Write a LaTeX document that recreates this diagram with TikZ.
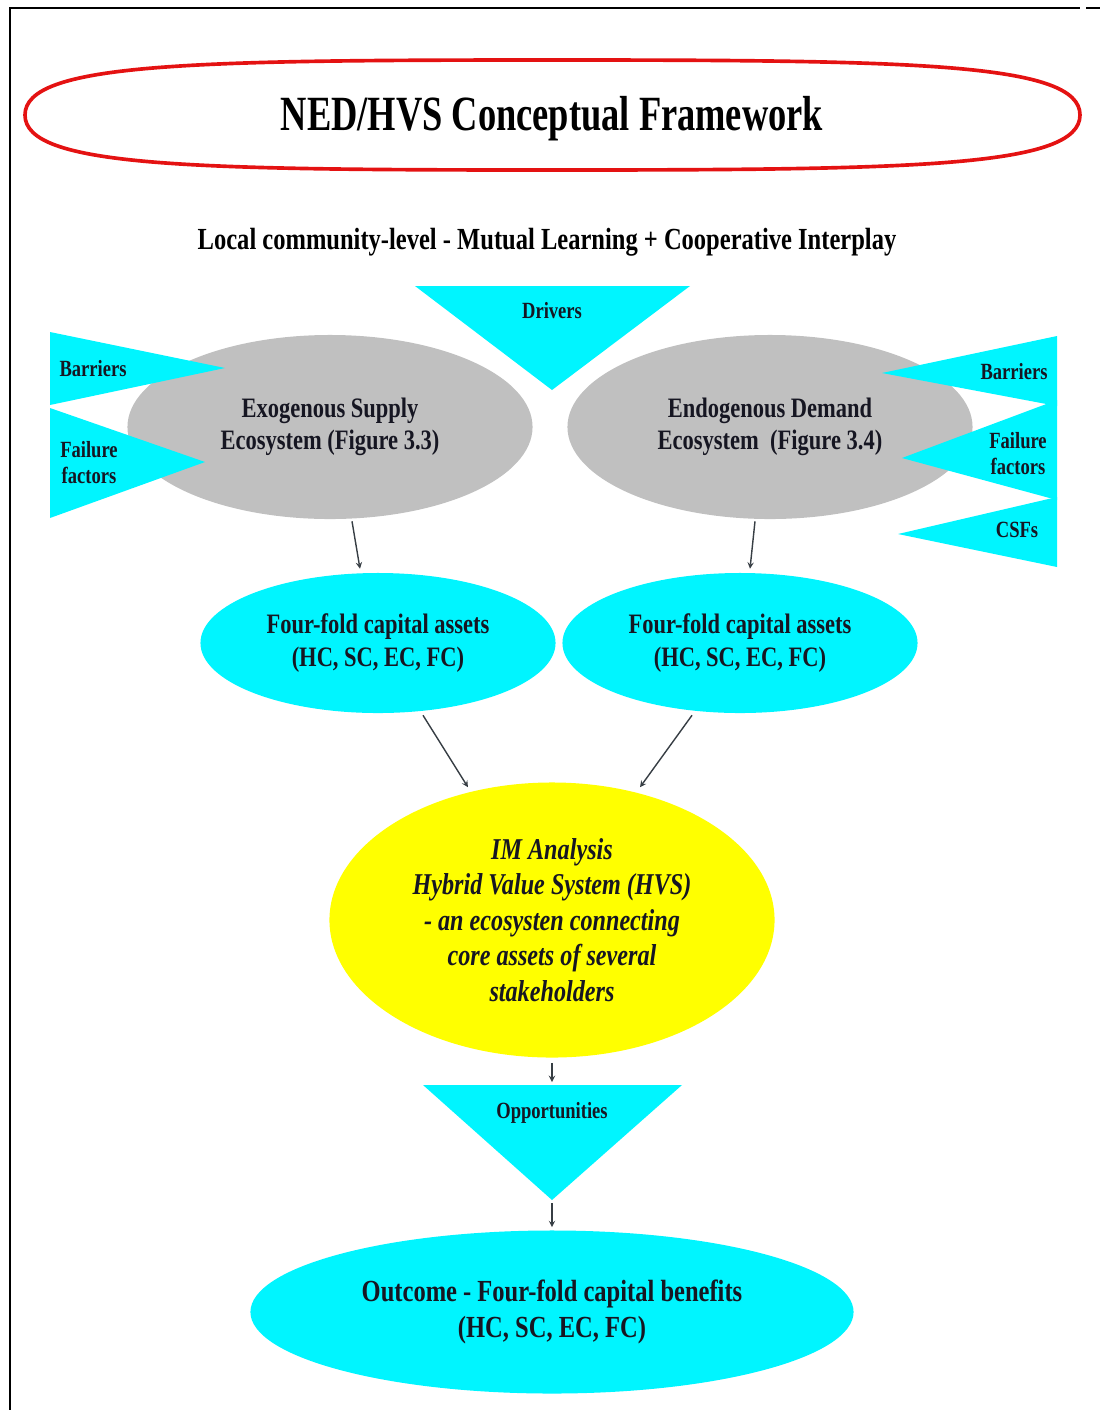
\documentclass[tikz,border=0pt]{standalone}
\usepackage{fontspec}
\setmainfont{Liberation Serif}[FakeStretch=0.8]
\newfontfamily\titlefont{Liberation Serif}[FakeStretch=0.74]
\usepackage{tikz}
\usetikzlibrary{shapes.geometric, arrows}
\definecolor{aqua}{RGB}{0,245,255}
\definecolor{ecogray}{RGB}{192,192,192}
\definecolor{hvsyellow}{RGB}{255,255,0}
\definecolor{framered}{RGB}{228,18,18}
\definecolor{inkdark}{RGB}{22,22,34}
\definecolor{arrowgray}{RGB}{55,62,68}
\tikzstyle{eco} = [ellipse, fill=ecogray, minimum width=10.125cm, minimum height=4.6cm, inner sep=0pt, align=center, text=inkdark, font=\fontsize{20}{23}\selectfont\bfseries]
\tikzstyle{asset} = [ellipse, fill=aqua, minimum width=8.875cm, minimum height=3.5cm, inner sep=0pt, align=center, text=inkdark, font=\fontsize{20}{23.5}\selectfont\bfseries]
\tikzstyle{hvsbox} = [ellipse, fill=hvsyellow, minimum width=11.125cm, minimum height=6.875cm, inner sep=0pt, align=center, text=inkdark, font=\fontsize{21.5}{25.2}\selectfont\bfseries\itshape]
\tikzstyle{outcome} = [ellipse, fill=aqua, minimum width=15.075cm, minimum height=4.075cm, inner sep=0pt, align=center, text=inkdark, font=\fontsize{21.8}{25.6}\selectfont\bfseries]
\tikzstyle{wedge} = [fill=aqua]
\tikzstyle{wedgetext} = [align=center, text=inkdark, font=\fontsize{16.5}{18.5}\selectfont\bfseries]
\tikzstyle{arrow} = [->,>=stealth, draw=arrowgray, line width=1pt]

\begin{document}
\begin{tikzpicture}[x=0.025cm, y=-0.025cm]
	\useasboundingbox (0,0) rectangle (1100,1410);
	% page frame
	\draw[line width=2pt] (10,1410) -- (10,8) -- (1080,8);
	\draw[line width=2pt] (1086,8) -- (1100,8);

	% title
	\draw[framered, line width=2.6pt] (25,115) .. controls (25,63) and (190,60) .. (552,60) .. controls (915,60) and (1080,63) .. (1080,115) .. controls (1080,167) and (915,170) .. (552,170) .. controls (190,170) and (25,167) .. (25,115) -- cycle;
	\node (title) at (552,119) [text=black, font=\fontsize{35}{40}\titlefont\bfseries] {NED/HVS Conceptual Framework};
	\node (sub) at (547,242) [text=black, font=\fontsize{21.8}{24}\selectfont\bfseries] {Local community-level - Mutual Learning + Cooperative Interplay};

	% ecosystems
	\node (exo) at (330,427) [eco] {Exogenous Supply\\Ecosystem (Figure 3.3)};
	\node (endo) at (770,427) [eco] {Endogenous Demand\\Ecosystem~ (Figure 3.4)};

	% wedges
	\fill[wedge] (415,286) -- (690,286) -- (552,390) -- cycle;
	\fill[wedge] (50,332) -- (225,368) -- (50,405) -- cycle;
	\fill[wedge] (50,408) -- (205,462) -- (50,518) -- cycle;
	\fill[wedge] (1057,336) -- (882,373) -- (1057,406) -- cycle;
	\fill[wedge] (1057,400) -- (902,458) -- (1057,500) -- cycle;
	\fill[wedge] (1057,497) -- (898,534) -- (1057,567) -- cycle;
	\node (drivers) at (552,311) [wedgetext] {Drivers};
	\node (barL) at (93,369) [wedgetext] {Barriers};
	\node (failL) at (89,463) [wedgetext] {Failure\\factors};
	\node (barR) at (1014,372) [wedgetext] {Barriers};
	\node (failR) at (1018,454) [wedgetext] {Failure\\factors};
	\node (csf) at (1017,530) [wedgetext] {CSFs};

	% capital assets
	\node (capL) at (378,643) [asset] {Four-fold capital assets\\(HC, SC, EC, FC)};
	\node (capR) at (740,643) [asset] {Four-fold capital assets\\(HC, SC, EC, FC)};

	% hybrid value system
	\node (hvs) at (552,920) [hvsbox] {IM Analysis\\Hybrid Value System (HVS)\\- an ecosysten connecting\\core assets of several\\stakeholders};

	% opportunities
	\fill[wedge] (423,1085) -- (682,1085) -- (552,1200) -- cycle;
	\coordinate (opptop) at (552,1085);
	\coordinate (opptip) at (552,1200);
	\node (opp) at (552,1113) [wedgetext] {Opportunities};

	% outcome
	\node (out) at (552,1312) [outcome] {Outcome - Four-fold capital benefits\\(HC, SC, EC, FC)};

	\draw [arrow] ([xshift=0.55cm, yshift=-0.05cm]exo.south) -- ([xshift=-0.45cm, yshift=0.1cm]capL.north);
	\draw [arrow] ([xshift=-0.375cm, yshift=-0.05cm]endo.south) -- ([xshift=0.25cm, yshift=0.1cm]capR.north);
	\draw [arrow] ([xshift=1.125cm, yshift=-0.05cm]capL.south) -- ([xshift=-2.1cm, yshift=-0.125cm]hvs.north);
	\draw [arrow] ([xshift=-1.2cm, yshift=-0.05cm]capR.south) -- ([xshift=2.2cm, yshift=-0.125cm]hvs.north);
	\draw [arrow] ([yshift=-0.125cm]hvs.south) -- ([yshift=0.075cm]opptop);
	\draw [arrow] ([yshift=-0.075cm]opptip) -- ([yshift=0.075cm]out.north);
\end{tikzpicture}
\end{document}
